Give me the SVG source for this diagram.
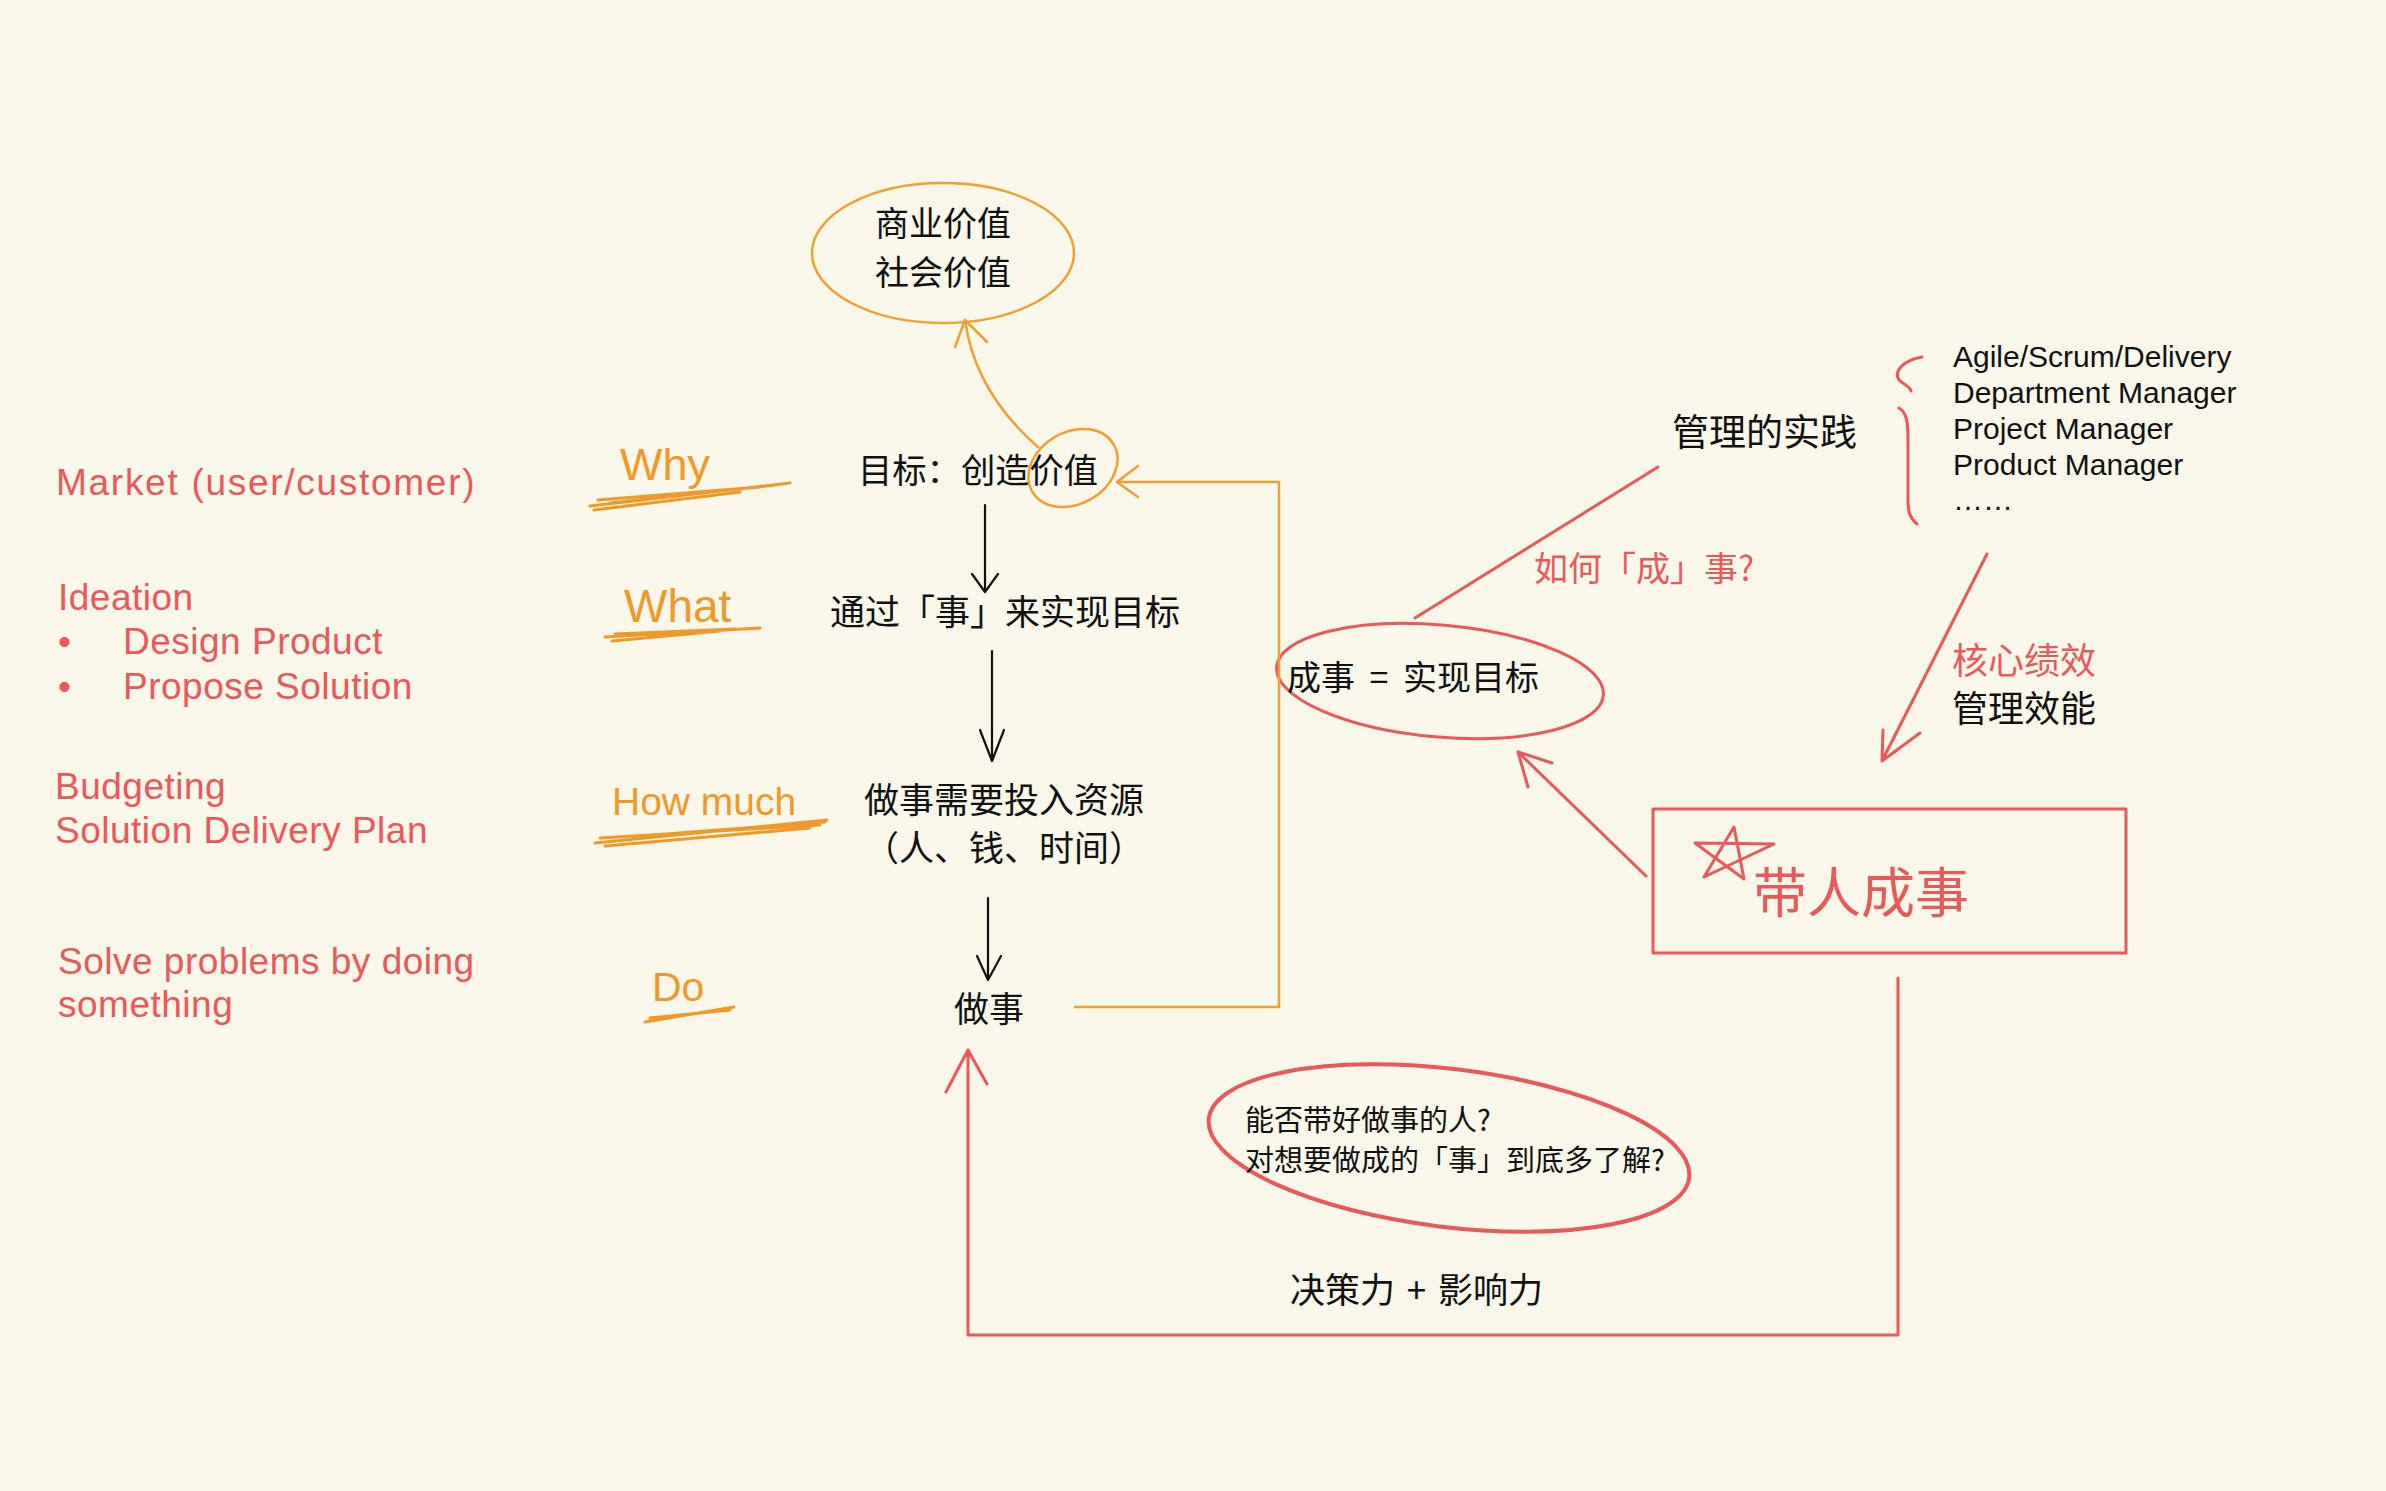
<svg xmlns="http://www.w3.org/2000/svg" width="2386" height="1491" viewBox="0 0 2386 1491">
<defs>
<style>
.cn{font-family:"Noto Sans CJK SC","Noto Sans",sans-serif;fill:#111}
.en{font-family:"Liberation Sans",Arial,sans-serif;fill:#111}
.red{fill:#E9585B}
.lt{font-family:"Liberation Sans",Arial,sans-serif;fill:#E9585B;font-size:37px;letter-spacing:0.5px}
.hw{font-family:"Liberation Sans",Arial,sans-serif;fill:#F0992B}
.ol{fill:none;stroke:#F0A033;stroke-width:2.5;stroke-linecap:round;stroke-linejoin:round}
.rl{fill:none;stroke:#E9585B;stroke-width:3;stroke-linecap:round;stroke-linejoin:round}
.bl{fill:none;stroke:#111;stroke-width:2.2;stroke-linecap:round;stroke-linejoin:round}
.ul{fill:none;stroke:#F0992B;stroke-width:3;stroke-linecap:round}
</style>
</defs>
<rect width="2386" height="1491" fill="#F9F6EA"/>

<g id="left-labels">
<text class="lt" x="56" y="495" textLength="419" lengthAdjust="spacing">Market (user/customer)</text>
<text class="lt" x="58" y="610">Ideation</text>
<text class="lt" x="58" y="654">•</text>
<text class="lt" x="123" y="654">Design Product</text>
<text class="lt" x="58" y="699">•</text>
<text class="lt" x="123" y="699">Propose Solution</text>
<text class="lt" x="55" y="799">Budgeting</text>
<text class="lt" x="55" y="843">Solution Delivery Plan</text>
<text class="lt" x="58" y="974">Solve problems by doing</text>
<text class="lt" x="58" y="1017">something</text>
</g>

<g id="handwriting">
<text class="hw" x="620" y="480" font-size="45">Why</text>
<path class="ul" d="M590,506 L790,483 M598,500 L760,487 M594,510 L740,492 M610,503 L775,485"/>
<text class="hw" x="624" y="622" font-size="46">What</text>
<path class="ul" d="M605,637 L760,628 M612,641 L720,631 M615,634 L735,629"/>
<text class="hw" x="612" y="815" font-size="39">How much</text>
<path class="ul" d="M595,843 L827,820 M600,838 L820,825 M605,846 L810,828 M640,836 L825,822"/>
<text class="hw" x="652" y="1001" font-size="41">Do</text>
<path class="ul" d="M645,1022 L734,1007 M650,1018 L730,1010"/>
</g>

<g id="node-value">
<ellipse cx="943" cy="253" rx="131" ry="70" class="ol"/>
<text class="cn" x="943" y="236" font-size="34" text-anchor="middle">商业价值</text>
<text class="cn" x="943" y="285" font-size="34" text-anchor="middle">社会价值</text>
</g>

<g id="node-goal">
<text class="cn" x="858" y="483" font-size="34.3">目标：创造价值</text>
<ellipse cx="1073" cy="468" rx="47" ry="36" transform="rotate(-30 1073 468)" class="ol"/>
</g>

<g id="node-what">
<text class="cn" x="1005" y="625" font-size="35" text-anchor="middle">通过「事」来实现目标</text>
</g>

<g id="node-resource">
<text class="cn" x="1004" y="813" font-size="35" text-anchor="middle">做事需要投入资源</text>
<text class="cn" x="1004" y="861" font-size="35" text-anchor="middle">（人、钱、时间）</text>
</g>

<g id="node-do">
<text class="cn" x="989" y="1022" font-size="35" text-anchor="middle">做事</text>
</g>

<g id="node-success">
<ellipse cx="1440" cy="681" rx="164" ry="56" transform="rotate(5 1440 681)" class="rl"/>
<text class="cn" x="1287" y="690" font-size="34" word-spacing="7">成事 = 实现目标</text>
</g>

<g id="node-practice">
<text class="cn" x="1672" y="446" font-size="37">管理的实践</text>
</g>

<g id="node-roles">
<path class="rl" d="M1922,357 C1905,360 1893,370 1899,380 C1904,385 1910,386 1911,391"/>
<path class="rl" d="M1899,408 C1906,412 1908,420 1908,440 L1908,500 C1908,512 1910,518 1917,524"/>
<text class="en" x="1953" y="367" font-size="30">Agile/Scrum/Delivery</text>
<text class="en" x="1953" y="403" font-size="30">Department Manager</text>
<text class="en" x="1953" y="439" font-size="30">Project Manager</text>
<text class="en" x="1953" y="475" font-size="30">Product Manager</text>
<text class="en" x="1953" y="510" font-size="30">……</text>
</g>

<g id="node-lead">
<rect x="1653" y="809" width="473" height="144" class="rl"/>
<path class="rl" d="M1695,843 L1774,844 L1704,877 L1734,827 L1744,879 Z"/>
<text class="cn red" x="1753" y="913" font-size="54">带人成事</text>
</g>

<g id="node-question">
<ellipse cx="1449" cy="1148" rx="242" ry="79" transform="rotate(7 1449 1148)" fill="none" stroke="#E9585B" stroke-width="4"/>
<text class="cn" x="1245" y="1131" font-size="29">能否带好做事的人?</text>
<text class="cn" x="1245" y="1171" font-size="29">对想要做成的「事」到底多了解?</text>
</g>

<g id="connectors">
<path class="ol" d="M1038,447 Q975,392 965,320"/>
<path class="ol" d="M955,347 L965,320 L987,342"/>
<path class="bl" d="M985,505 L985,592 M972,574 L985,592 L998,574"/>
<path class="bl" d="M992,651 L992,761 M980,730 L992,761 L1004,730"/>
<path class="bl" d="M988,898 L988,980 M977,956 L988,980 L1001,956"/>
<path class="ol" d="M1075,1007 L1279,1007 L1279,482 L1117,482"/>
<path class="ol" d="M1138,466 L1117,482 L1138,497"/>
<path class="rl" d="M1658,467 L1415,618"/>
<text class="cn red" x="1534" y="581" font-size="34">如何「成」事?</text>
<path class="rl" d="M1987,554 L1882,761 M1883,730 L1882,761 L1920,733"/>
<text class="cn red" x="1952" y="674" font-size="36">核心绩效</text>
<text class="cn" x="1952" y="722" font-size="36">管理效能</text>
<path class="rl" d="M1646,876 L1518,752 M1552,763 L1518,752 L1528,787"/>
<path class="rl" d="M1898,978 L1898,1335 L968,1335 L968,1050 M946,1092 L968,1050 L987,1084"/>
<text class="cn" x="1290" y="1303" font-size="35" word-spacing="4">决策力 + 影响力</text>
</g>
</svg>
